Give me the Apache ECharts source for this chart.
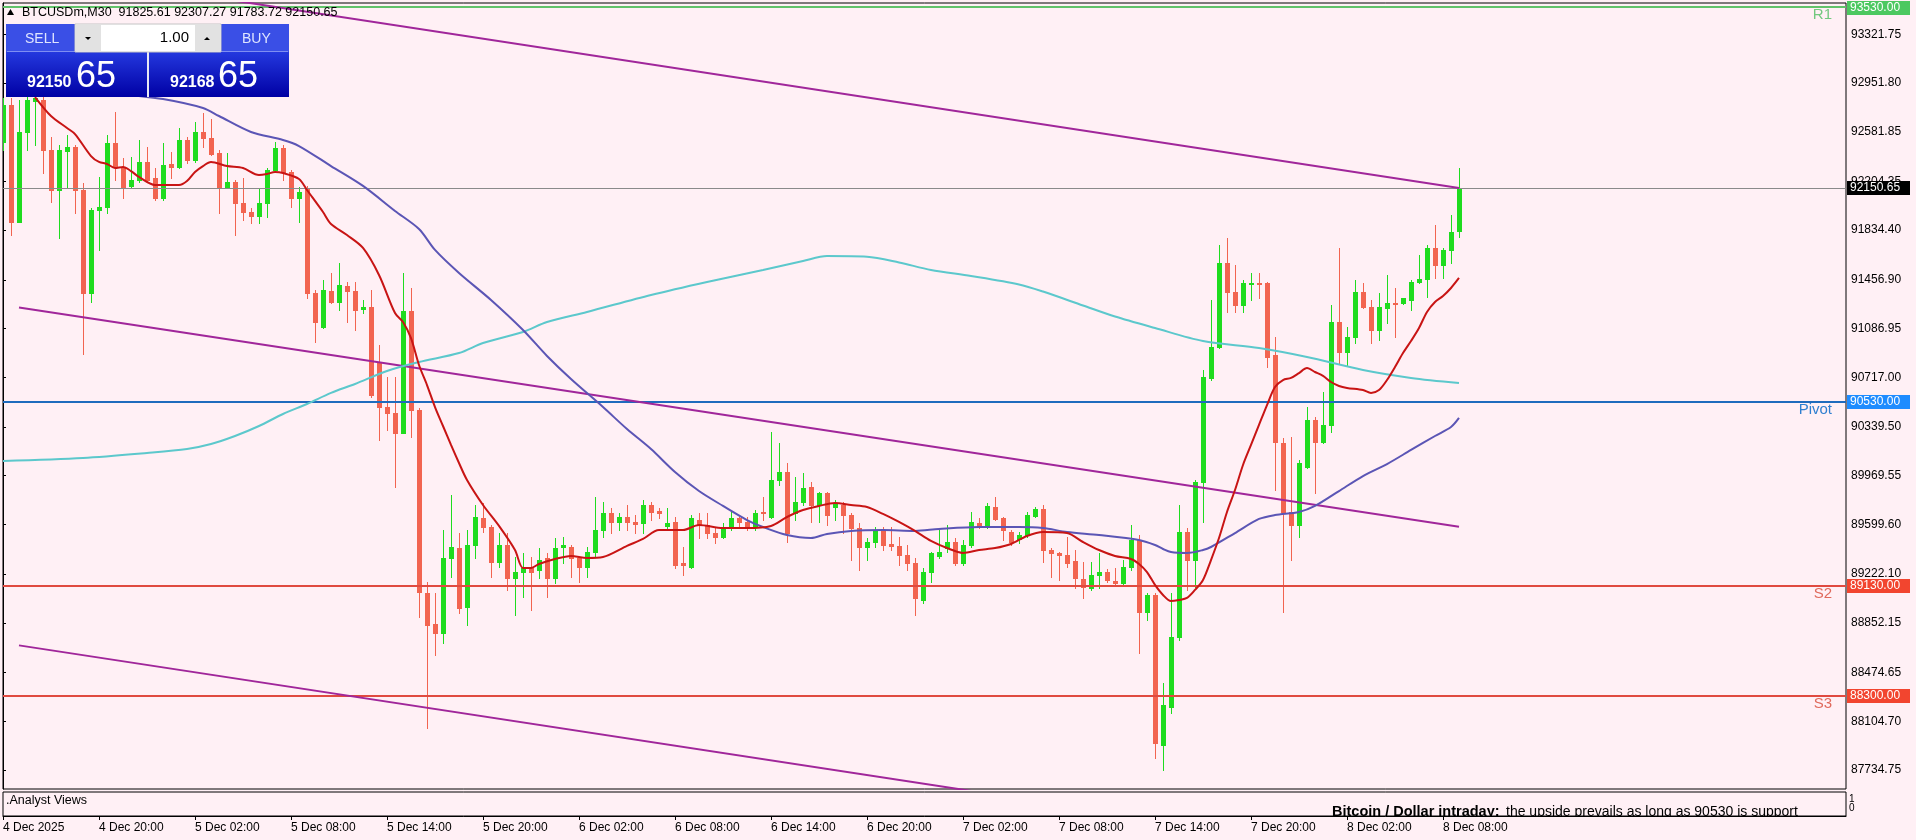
<!DOCTYPE html>
<html>
<head>
<meta charset="utf-8">
<script src="https://cdn.jsdelivr.net/npm/echarts@6/dist/echarts.min.js"></script>
<style>
html,body{margin:0;padding:0;background:#FFF0F5;}
#c{width:1916px;height:840px;}
</style>
</head>
<body>
<div id="c"></div>
<script>
// ---------- DATA (M30 bars, 4 Dec 14:00 -> 8 Dec 09:00) ----------
const symbolName = 'BTCUSDm,M30';
const opens = [92506,92785,91898,92582,92815,92823,92443,92139,92438,92468,92139,91357,91987,92012,92494,92316,92170,92215,92354,92228,
92076,92337,92312,92519,92367,92582,92532,92422,92160,92202,92038,91974,91942,92038,92291,92456,92278,92076,92152,91355,
91101,91374,91291,91410,91374,91233,91253,90835,90494,90443,90296,91220,90468,89076,88843,88777,89342,89418,88975,89443,
89646,89582,89316,89443,89190,89241,89269,89253,89342,89190,89430,89430,89342,89279,89392,89557,89689,89620,89658,89620,
89608,89747,89702,89588,89620,89304,89279,89633,89595,89532,89506,89575,89646,89620,89582,89696,89658,89937,90000,89684,
89772,89886,89747,89836,89734,89747,89671,89570,89430,89468,89557,89451,89436,89367,89304,89026,89241,89360,89418,89468,
89304,89443,89613,89582,89734,89646,89544,89487,89519,89664,89714,89405,89385,89367,89322,89183,89114,89215,89241,89172,
89157,89274,89481,88937,89064,87925,88215,88747,89544,89329,89924,90709,90949,91583,91367,91266,91425,91435,91435,90886,
90216,89696,89595,90038,90393,90228,90355,91139,90911,91025,91367,91248,91076,91241,91281,91279,91304,91443,91461,91696,
91570,91684,91825.61];
const highs = [92838,92838,92823,92853,92870,92846,92544,92481,92557,92481,92192,92002,92240,92557,92734,92382,92392,92519,92468,92306,
92494,92430,92608,92544,92658,92724,92678,92443,92420,92215,92230,92002,92154,92306,92506,92481,92291,92164,92170,91380,
91456,91509,91585,91443,91443,91304,91380,90962,90721,90721,91509,91395,90484,89165,89079,89557,89823,89534,89557,89747,
89762,89595,89534,89534,89354,89383,89354,89418,89383,89496,89506,89443,89354,89430,89810,89772,89724,89686,89747,89671,
89785,89772,89724,89724,89658,89430,89671,89686,89686,89582,89610,89696,89658,89658,89709,89810,90304,90216,90064,89962,
89988,89924,89848,89848,89785,89772,89686,89610,89496,89582,89582,89582,89506,89443,89342,89269,89392,89557,89595,89496,
89481,89696,89646,89760,89810,89658,89557,89544,89696,89734,89747,89418,89392,89506,89405,89316,89316,89380,89259,89266,
89329,89595,89519,89076,89076,88393,89076,89747,89572,89937,90772,91304,91722,91772,91570,91456,91507,91511,91443,91025,
90254,90266,90089,90494,90418,90607,91266,91696,91101,91456,91431,91304,91355,91494,91393,91317,91456,91646,91722,91873,
91696,91949,92307.27];
const lows = [92443,91797,91898,92443,92481,92268,92050,91775,92154,91964,90894,91291,91683,91964,92215,92078,92164,92202,92202,92063,
92063,92228,92304,92342,92354,92468,92405,91962,92152,91797,91911,91886,91886,91936,92278,92215,92012,91898,91319,90987,
91091,91281,91228,91139,91076,91203,90567,90241,90317,89886,90296,90266,88899,88051,88608,88697,89203,88927,88836,89342,
89544,89203,89279,89102,88912,89051,88950,89190,89051,89155,89304,89203,89165,89203,89354,89506,89534,89557,89557,89534,
89534,89633,89648,89572,89269,89215,89269,89496,89496,89458,89496,89557,89582,89557,89557,89633,89646,89899,89468,89633,
89747,89620,89620,89595,89633,89532,89329,89253,89329,89430,89405,89405,89291,89253,88912,89003,89165,89342,89392,89291,
89291,89430,89570,89570,89633,89481,89443,89456,89506,89658,89316,89203,89177,89279,89114,89039,89102,89114,89165,89147,
89139,89253,88621,88874,87824,87735,88165,88722,89102,89127,89620,90696,90937,91215,91215,91215,91304,91317,90797,89861,
88937,89329,89506,90026,89836,90216,90304,90823,90810,90975,91241,90975,91000,91127,91025,91274,91228,91431,91329,91469,
91469,91583,91783.72];
const closes = [92785,91898,92582,92823,92838,92443,92139,92443,92468,92139,91357,91987,92012,92494,92316,92164,92215,92354,92215,92076,
92329,92312,92519,92367,92582,92532,92413,92160,92202,92038,91974,91942,92038,92291,92456,92278,92076,92126,91355,91139,
91380,91291,91418,91374,91228,91253,90582,90494,90443,90296,91220,90468,89089,88836,88777,89342,89430,88963,89443,89658,
89582,89316,89443,89190,89241,89269,89238,89329,89190,89418,89443,89342,89279,89392,89557,89689,89620,89658,89620,89603,
89747,89696,89684,89608,89291,89291,89646,89595,89532,89506,89575,89646,89620,89582,89684,89684,89937,90000,89532,89772,
89874,89747,89836,89671,89755,89671,89570,89430,89468,89557,89443,89436,89367,89304,89039,89241,89380,89392,89468,89304,
89443,89620,89582,89739,89638,89557,89468,89519,89671,89714,89405,89380,89367,89309,89190,89127,89215,89241,89177,89152,
89274,89481,88937,89064,87937,88228,88747,89544,89329,89924,90721,90949,91583,91367,91266,91431,91435,91425,90873,90228,
89696,89595,90064,90393,90228,90355,91139,90911,91025,91367,91248,91076,91248,91279,91274,91317,91443,91461,91696,91570,
91684,91823,92150.65];

// moving averages: [bar index, price]
const maFast = [[4,92845],[6,92701],[8,92610],[9,92564],[11,92397],[12,92352],[13,92337],[14,92306],[15,92314],[16,92283],[17,92238],[19,92177],[21,92177],[22,92177],[23,92207],[24,92276],[25,92321],[26,92352],[28,92321],[30,92306],[32,92253],[33,92261],[34,92276],[35,92268],[37,92223],[38,92139],[40,91972],[41,91881],[43,91797],[45,91699],[47,91494],[49,91205],[50,91137],[51,91015],[52,90810],[53,90658],[54,90491],[55,90347],[56,90203],[57,90066],[58,89937],[60,89747],[62,89588],[64,89405],[65,89269],[66,89269],[67,89299],[69,89337],[71,89360],[73,89345],[75,89352],[78,89436],[80,89489],[82,89557],[85,89557],[87,89595],[90,89572],[93,89572],[96,89588],[98,89656],[100,89709],[102,89740],[104,89762],[106,89747],[108,89732],[110,89679],[112,89618],[114,89550],[116,89474],[118,89420],[120,89383],[122,89405],[124,89420],[126,89451],[128,89512],[130,89542],[133,89534],[135,89466],[137,89405],[139,89360],[141,89337],[142,89299],[143,89238],[144,89140],[145,89064],[146,89018],[147,89026],[148,89041],[149,89102],[150,89178],[151,89329],[152,89496],[153,89694],[154,89861],[155,90051],[156,90203],[157,90355],[158,90506],[159,90643],[160,90696],[161,90712],[162,90749],[163,90787],[164,90757],[165,90727],[166,90681],[167,90651],[168,90636],[170,90620],[171,90598],[172,90620],[173,90696],[174,90795],[175,90901],[176,90992],[177,91091],[178,91213],[179,91289],[180,91334],[181,91395],[182,91471]];
const maMid = [[10,92914],[15,92868],[20,92830],[25,92762],[27,92701],[31,92580],[35,92519],[37,92473],[41,92321],[45,92170],[49,91980],[52,91843],[54,91684],[57,91509],[61,91304],[65,91076],[68,90879],[71,90704],[75,90491],[78,90324],[81,90172],[84,89998],[87,89853],[90,89740],[93,89633],[95,89580],[98,89519],[101,89496],[103,89527],[106,89550],[110,89557],[114,89550],[117,89565],[122,89580],[127,89580],[130,89572],[133,89542],[137,89519],[142,89481],[144,89443],[145,89413],[146,89390],[148,89383],[150,89405],[151,89428],[154,89534],[157,89641],[159,89671],[162,89694],[164,89740],[167,89853],[170,89967],[173,90058],[176,90165],[179,90271],[181,90339],[182,90408]];
const maSlow = [[0,90081],[10,90104],[18,90142],[23,90172],[26,90210],[29,90271],[32,90347],[35,90438],[38,90514],[41,90598],[44,90666],[48,90765],[52,90833],[57,90901],[60,90977],[65,91061],[68,91137],[73,91213],[81,91342],[88,91441],[95,91532],[100,91600],[103,91638],[108,91633],[112,91589],[116,91532],[121,91486],[127,91422],[130,91368],[135,91262],[139,91178],[144,91091],[150,90992],[157,90939],[163,90871],[170,90772],[176,90712],[182,90673]];

// descending channel (trend lines): [bar index, price]
const channelUpper = [[20,93660],[182,92154]];
const channelMiddle = [[2,91247],[182,89582]];
const channelLower = [[2,88681],[182,87009]];

// pivot levels
const levelNames = ['R1','Pivot','S2','S3'];
const levelValues = [93530,90530,89130,88300];
const lastPrice = 92150.65;
const bidPrice = 92150.65, askPrice = 92168.65, lotSize = '1.00';

// axis labels
const priceTicks = [93321.75,92951.80,92581.85,92204.35,91834.40,91456.90,91086.95,90717.00,90339.50,89969.55,89599.60,89222.10,88852.15,88474.65,88104.70,87734.75];
const timeLabels = ['4 Dec 2025','4 Dec 20:00','5 Dec 02:00','5 Dec 08:00','5 Dec 14:00','5 Dec 20:00','6 Dec 02:00','6 Dec 08:00','6 Dec 14:00','6 Dec 20:00','7 Dec 02:00','7 Dec 08:00','7 Dec 14:00','7 Dec 20:00','8 Dec 02:00','8 Dec 08:00'];
const barsPerLabel = 12;
const subTitle = '.Analyst Views';
const noteHead = 'Bitcoin / Dollar intraday:';
const noteBody = 'the upside prevails as long as 90530 is support';

// ---------- STYLE ----------
const FONT = "'Liberation Sans', Arial, sans-serif";
const BG = '#FFF0F5';
const BULL = '#1fdc1f', BEAR = '#f26450';
const levelStyle = {
  R1:    {line:'#62c26a', text:'#72c87e', tag:'#4cc860', w:2},
  Pivot: {line:'#1f6bbd', text:'#2f7fd0', tag:'#1e8cff', w:2},
  S2:    {line:'#e04a40', text:'#e06a5c', tag:'#f2452f', w:2},
  S3:    {line:'#e04a40', text:'#e06a5c', tag:'#f2452f', w:2},
  LAST:  {line:'#8a8a8a', text:'#000',    tag:'#000000', w:1}
};

const X_MIN = 0, X_MAX = 230.375;
const Y_MIN = 87590.3, Y_MAX = 93559.2;

const candleData = opens.map((o, i) => [i, o, highs[i], lows[i], closes[i]]);
const levelData = levelValues.map((v, k) => [k, v, levelNames[k]]).concat([[levelValues.length, lastPrice, 'LAST']]);

function renderCandle(params, api) {
  const i = api.value(0), o = api.value(1), h = api.value(2), l = api.value(3), c = api.value(4);
  const po = api.coord([i, o]), ph = api.coord([i, h]), pl = api.coord([i, l]), pc = api.coord([i, c]);
  const x = Math.round(po[0]);
  const color = c >= o ? BULL : BEAR;
  const yh = Math.round(ph[1]), yl = Math.round(pl[1]);
  const top = Math.round(Math.min(po[1], pc[1])), bot = Math.round(Math.max(po[1], pc[1]));
  return {type:'group', children:[
    {type:'rect', shape:{x:x, y:yh, width:1, height:Math.max(1, yl - yh + 1)}, style:{fill:color}},
    {type:'rect', shape:{x:x-2, y:top, width:5, height:Math.max(1, bot - top + 1)}, style:{fill:color}}
  ]};
}

function renderLevel(params, api) {
  const v = api.value(1);
  const name = levelData[params.dataIndex][2];
  const st = levelStyle[name];
  const cs = params.coordSys;
  const y = Math.round(api.coord([X_MIN, v])[1]);
  const right = cs.x + cs.width;
  const tagTop = Math.max(1, y - 7);
  const ch = [
    {type:'rect', shape:{x:cs.x, y: st.w === 2 ? y - 1 : y, width:cs.width, height:st.w}, style:{fill:st.line}},
    {type:'rect', shape:{x:right + 1, y:tagTop, width:63, height:14}, style:{fill:st.tag}},
    {type:'text', x:right + 4, y:tagTop + 7, style:{text:v.toFixed(2), fill:'#fff', font:'12px ' + FONT, verticalAlign:'middle', align:'left'}}
  ];
  if (name !== 'LAST') {
    ch.push({type:'text', x:right - 14, y:y + 7.5, style:{text:name, fill:st.text, font:'15px ' + FONT, verticalAlign:'middle', align:'right'}});
  }
  return {type:'group', children:ch};
}

function renderSubTexts(params, api) {
  const cs = params.coordSys;
  return {type:'group', children:[
    {type:'text', x:cs.x + 3, y:cs.y + 9, style:{text:subTitle, fill:'#000', font:'12.5px ' + FONT, verticalAlign:'middle'}},
    {type:'text', x:cs.x + 1329, y:cs.y + 27, style:{text:noteHead, fill:'#000', font:'bold 14.5px ' + FONT, verticalAlign:'bottom'}},
    {type:'text', x:cs.x + 1503, y:cs.y + 27, style:{text:noteBody, fill:'#000', font:'14px ' + FONT, verticalAlign:'bottom'}}
  ]};
}

const lineSeries = (name, data, color, width, z, smooth) => ({
  name, type:'line', data, xAxisIndex:0, yAxisIndex:0, showSymbol:false, symbol:'none',
  smooth: smooth, lineStyle:{color, width}, z, silent:true, clip:true
});

// ---------- trading panel (overlay) ----------
const bigFrac = v => v.toFixed(2).split('.');
const bidParts = bigFrac(bidPrice), askParts = bigFrac(askPrice);
const lastIdx = opens.length - 1;
const headerText = symbolName + '  ' + opens[lastIdx].toFixed(2) + ' ' + highs[lastIdx].toFixed(2) + ' ' + lows[lastIdx].toFixed(2) + ' ' + closes[lastIdx].toFixed(2);
const lowerGrad = {type:'linear', x:0, y:0, x2:0, y2:1, colorStops:[{offset:0, color:'#2438de'},{offset:1, color:'#0000a4'}]};
const Z = 100;
const graphics = [
  {type:'polygon', shape:{points:[[7,15],[14,15],[10.5,9]]}, style:{fill:'#000'}, z:Z},
  {type:'text', x:22, y:12.5, style:{text:headerText, fill:'#000', font:'12.5px ' + FONT, verticalAlign:'middle'}, z:Z},
  // SELL box
  {type:'rect', shape:{x:6, y:24, width:141, height:28}, style:{fill:'#3a4fe6'}, z:Z},
  {type:'rect', shape:{x:6, y:52, width:141, height:45}, style:{fill:lowerGrad}, z:Z},
  // BUY box
  {type:'rect', shape:{x:149, y:24, width:140, height:28}, style:{fill:'#3a4fe6'}, z:Z},
  {type:'rect', shape:{x:149, y:52, width:140, height:45}, style:{fill:lowerGrad}, z:Z},
  {type:'rect', shape:{x:7, y:51, width:139, height:1}, style:{fill:'#7f8ef2'}, z:Z+1},
  {type:'rect', shape:{x:150, y:51, width:138, height:1}, style:{fill:'#7f8ef2'}, z:Z+1},
  {type:'rect', shape:{x:147, y:52, width:2, height:45}, style:{fill:'#e8e8f4'}, z:Z+1},
  // lot input
  {type:'rect', shape:{x:75, y:24, width:146, height:28}, style:{fill:'#ffffff', stroke:'#c4c4c4', lineWidth:1}, z:Z+2},
  {type:'rect', shape:{x:76, y:25, width:25, height:26}, style:{fill:'#e2e2e2'}, z:Z+3},
  {type:'rect', shape:{x:195, y:25, width:25, height:26}, style:{fill:'#e2e2e2'}, z:Z+3},
  {type:'polygon', shape:{points:[[85,37],[91,37],[88,40]]}, style:{fill:'#000'}, z:Z+4},
  {type:'polygon', shape:{points:[[204,40],[210,40],[207,37]]}, style:{fill:'#000'}, z:Z+4},
  {type:'text', x:189, y:38, style:{text:lotSize, fill:'#000', font:'15px ' + FONT, align:'right', verticalAlign:'middle'}, z:Z+4},
  {type:'text', x:25, y:39, style:{text:'SELL', fill:'#dfe5ff', font:'14px ' + FONT, verticalAlign:'middle'}, z:Z+2},
  {type:'text', x:242, y:39, style:{text:'BUY', fill:'#dfe5ff', font:'14px ' + FONT, verticalAlign:'middle'}, z:Z+2},
  {type:'text', x:27, y:91, style:{text:bidParts[0], fill:'#fff', font:'bold 16px ' + FONT, verticalAlign:'bottom'}, z:Z+2},
  {type:'text', x:76, y:95, style:{text:bidParts[1], fill:'#fff', font:'36px ' + FONT, verticalAlign:'bottom'}, z:Z+2},
  {type:'text', x:170, y:91, style:{text:askParts[0], fill:'#fff', font:'bold 16px ' + FONT, verticalAlign:'bottom'}, z:Z+2},
  {type:'text', x:218, y:95, style:{text:askParts[1], fill:'#fff', font:'36px ' + FONT, verticalAlign:'bottom'}, z:Z+2},
  // sub-window scale
  {type:'text', x:1849, y:799, style:{text:'1', fill:'#000', font:'10px ' + FONT, verticalAlign:'middle'}, z:Z},
  {type:'text', x:1849, y:808, style:{text:'0', fill:'#000', font:'10px ' + FONT, verticalAlign:'middle'}, z:Z}
];

const chart = echarts.init(document.getElementById('c'), null, {width:1916, height:840, renderer:'canvas'});
chart.setOption({
  animation:false,
  backgroundColor:BG,
  grid:[
    {left:3, right:70, top:3, height:786, show:true, borderColor:'#000', borderWidth:1, backgroundColor:'transparent'},
    {left:3, right:70, top:792, height:24, show:true, borderColor:'#000', borderWidth:1, backgroundColor:'transparent'}
  ],
  xAxis:[
    {type:'value', gridIndex:0, min:X_MIN, max:X_MAX, show:false},
    {type:'value', gridIndex:1, min:X_MIN, max:X_MAX,
      axisLine:{show:true, lineStyle:{color:'#000', width:1}},
      axisTick:{show:true, length:4, lineStyle:{color:'#000'}, customValues: timeLabels.map((_, k) => k * barsPerLabel)},
      axisLabel:{show:true, margin:6, align:'left', color:'#000', fontSize:12, fontFamily:FONT,
        customValues: timeLabels.map((_, k) => k * barsPerLabel),
        formatter: v => timeLabels[Math.round(v / barsPerLabel)]},
      splitLine:{show:false}}
  ],
  yAxis:[
    {type:'value', gridIndex:0, position:'right', min:Y_MIN, max:Y_MAX, scale:true,
      axisLine:{show:true, lineStyle:{color:'#000', width:1}},
      axisTick:{show:true, length:3, lineStyle:{color:'#000'}, customValues:priceTicks},
      axisLabel:{show:true, margin:5, color:'#000', fontSize:12, fontFamily:FONT, customValues:priceTicks,
        formatter: v => v.toFixed(2)},
      splitLine:{show:false}},
    {type:'value', gridIndex:1, min:0, max:1, show:false}
  ],
  series:[
    {name:'candles', type:'custom', xAxisIndex:0, yAxisIndex:0, data:candleData, renderItem:renderCandle, clip:true, z:2, silent:true},
    {name:'levels', type:'custom', xAxisIndex:0, yAxisIndex:0, data:levelData, renderItem:renderLevel, clip:false, z:3, silent:true},
    lineSeries('channelUpper', channelUpper, '#a0269a', 2, 4, false),
    lineSeries('channelMiddle', channelMiddle, '#a0269a', 2, 4, false),
    lineSeries('channelLower', channelLower, '#a0269a', 2, 4, false),
    lineSeries('maSlow', maSlow, '#5cc8cc', 2, 5, 0.3),
    lineSeries('maMid', maMid, '#5b55b5', 2, 5, 0.3),
    lineSeries('maFast', maFast, '#c81414', 2, 6, 0.3),
    {name:'subTexts', type:'custom', xAxisIndex:1, yAxisIndex:1, data:[[0,0]], renderItem:renderSubTexts, clip:true, z:2, silent:true}
  ],
  graphic: graphics
});
</script>
</body>
</html>
